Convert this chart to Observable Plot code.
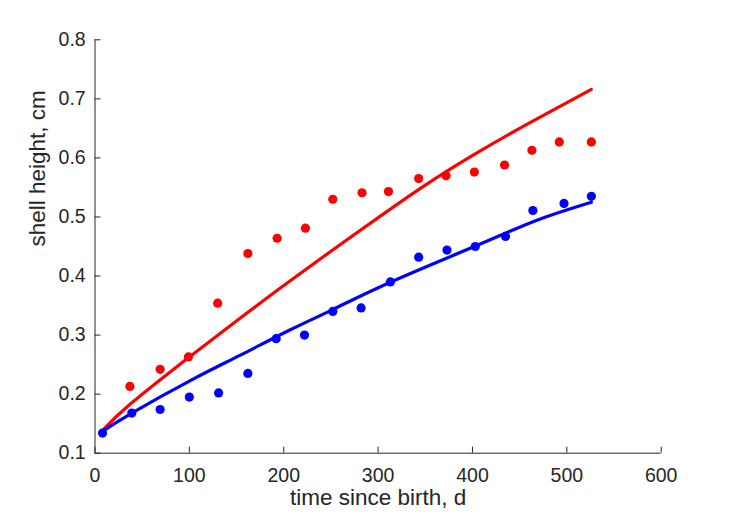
<!DOCTYPE html>
<html>
<head>
<meta charset="utf-8">
<script src="https://cdn.jsdelivr.net/npm/d3@7"></script>
<script src="https://cdn.jsdelivr.net/npm/@observablehq/plot@0.6"></script>
<style>
  html, body { margin: 0; padding: 0; background: #ffffff; }
</style>
</head>
<body>
<div id="chart"></div>
<script>
// ---- data ----
const xTicks = [0, 100, 200, 300, 400, 500, 600];
const yTicks = [0.1, 0.2, 0.3, 0.4, 0.5, 0.6, 0.7, 0.8];
const xLabel = "time since birth, d";
const yLabel = "shell height, cm";

// observed (dots)
const blueDays    = [8, 39, 69, 100, 131, 162, 192, 222, 252, 282, 313, 343, 373, 403, 435, 464, 497, 526];
const blueHeights = [0.134, 0.168, 0.174, 0.195, 0.202, 0.235, 0.294, 0.300, 0.340, 0.346, 0.390, 0.432, 0.444, 0.450, 0.467, 0.511, 0.523, 0.535];
const redDays     = [37, 69, 99, 130, 162, 193, 223, 252, 283, 311, 343, 372, 402, 434, 463, 492, 526];
const redHeights  = [0.213, 0.242, 0.263, 0.354, 0.438, 0.464, 0.481, 0.530, 0.541, 0.543, 0.565, 0.570, 0.576, 0.588, 0.613, 0.627, 0.627];

// fitted curves (lines)
const blueFitDays    = [7, 39, 101, 154, 207, 253, 313, 405, 469, 526];
const blueFitHeights = [0.136, 0.168, 0.223, 0.266, 0.309, 0.344, 0.3895, 0.452, 0.495, 0.525];
const redFitDays     = [7, 38, 100, 154, 200, 250, 302, 350, 402, 460, 526];
const redFitHeights  = [0.137, 0.184, 0.263, 0.329, 0.384, 0.442, 0.501, 0.554, 0.606, 0.659, 0.716];

const zip = (xs, ys) => xs.map((x, i) => ({x, y: ys[i]}));
const blue = zip(blueDays, blueHeights);
const red = zip(redDays, redHeights);
const blueFit = zip(blueFitDays, blueFitHeights);
const redFit = zip(redFitDays, redFitHeights);

const ink = "#262626";
const RED = "#ff0000";
const BLUE = "#0000ff";

const chart = Plot.plot({
  width: 729,
  height: 521,
  marginLeft: 94.5,
  marginRight: 68.3,
  marginTop: 39.3,
  marginBottom: 68.3,
  style: {fontFamily: "'Liberation Sans', Arial, sans-serif", fontSize: "19.5px", background: "#ffffff", color: ink},
  x: {domain: [0, 600]},
  y: {domain: [0.1, 0.8]},
  marks: [
    Plot.ruleY([0.1], {stroke: ink, strokeWidth: 1}),
    Plot.ruleX([0], {stroke: ink, strokeWidth: 1}),
    Plot.axisX(xTicks, {anchor: "bottom", tickSize: -6, tickPadding: 21, tickFormat: d3.format("d"), label: null, color: ink}),
    Plot.axisY(yTicks, {anchor: "left", tickSize: -6, tickPadding: 15.3, tickFormat: d3.format(".1f"), label: null, color: ink}),
    Plot.line(redFit, {x: "x", y: "y", stroke: RED, strokeWidth: 3.2, curve: "natural"}),
    Plot.line(blueFit, {x: "x", y: "y", stroke: BLUE, strokeWidth: 3.2, curve: "natural"}),
    Plot.dot(red, {x: "x", y: "y", r: 4.6, fill: RED}),
    Plot.dot(blue, {x: "x", y: "y", r: 4.6, fill: BLUE}),
    Plot.text([xLabel], {frameAnchor: "bottom", dy: 52, fontSize: 22.5, fill: ink}),
    Plot.text([yLabel], {frameAnchor: "left", dx: -57, rotate: -90, fontSize: 22.5, fill: ink})
  ]
});
document.getElementById("chart").appendChild(chart);
</script>
</body>
</html>
